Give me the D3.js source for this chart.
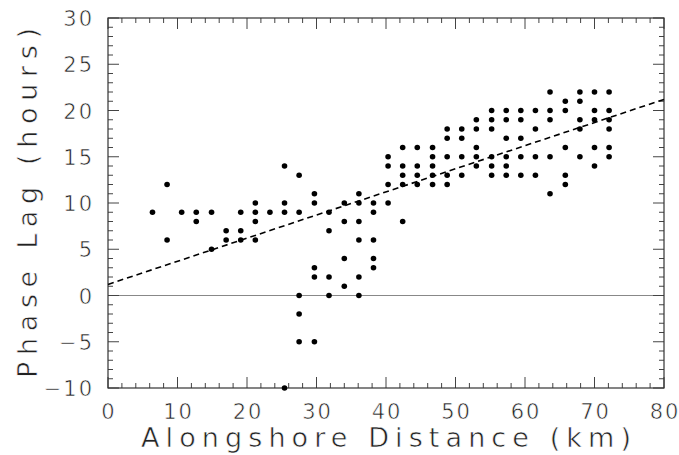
<!DOCTYPE html>
<html>
<head>
<meta charset="utf-8">
<script src="https://cdn.jsdelivr.net/npm/d3@7"></script>
<style>
  body { margin: 0; background: #fff; }
  text { font-family: "DejaVu Sans", sans-serif; fill: #222; stroke: #fff; stroke-width: 0.6px; paint-order: normal; }
</style>
</head>
<body>
<div id="chart"></div>
<script>
// alongshore distance of each station (km)
const stations = [6.4, 8.5, 10.6, 12.7, 14.9, 17.0, 19.1, 21.2, 23.3, 25.4, 27.5,
                  29.7, 31.8, 34.0, 36.1, 38.2, 40.3, 42.4, 44.5, 46.7, 48.8, 50.9,
                  53.0, 55.2, 57.3, 59.4, 61.5, 63.6, 65.8, 67.9, 70.0, 72.1];
// phase lags observed at each station (hours)
const lags = [
  [9], [12, 6], [9], [9, 8], [9, 5], [7, 6], [9, 7, 6], [10, 9, 8, 6], [9],
  [14, 10, 9, -10], [13, 9, 0, -2, -5], [11, 10, 3, 2, -5], [9, 7, 2, 0],
  [10, 8, 4, 1], [11, 10, 8, 6, 2, 0], [10, 9, 6, 4, 3], [15, 14, 12, 10],
  [16, 14, 13, 12, 8], [16, 14, 13, 12], [16, 15, 14, 13, 12], [18, 17, 15, 13, 12],
  [18, 17, 15, 13], [19, 18, 16, 15, 14], [20, 19, 18, 15, 14, 13],
  [20, 19, 17, 15, 14, 13], [20, 19, 17, 15, 13], [20, 18, 15, 13],
  [22, 20, 19, 15, 11], [21, 20, 16, 13, 12], [22, 21, 19, 18, 15],
  [22, 20, 19, 16, 14], [22, 20, 19, 18, 16, 15]
];
// fitted trend line end points
const fitX = [0, 80];
const fitY = [1.2, 21.2];

const xTicks = [0, 10, 20, 30, 40, 50, 60, 70, 80];
const yTicks = [-10, -5, 0, 5, 10, 15, 20, 25, 30];

const W = 679, H = 455;
const m = {left: 108, right: 15, top: 18, bottom: 67};

const svg = d3.select("#chart").append("svg")
    .attr("width", W).attr("height", H);

const x = d3.scaleLinear().domain([0, 80]).range([m.left, W - m.right]);
const y = d3.scaleLinear().domain([-10, 30]).range([H - m.bottom, m.top]);

const x0 = x(0), x1 = x(80), y0 = y(-10), y1 = y(30);

// zero line
svg.append("line")
    .attr("x1", x0).attr("x2", x1)
    .attr("y1", y(0)).attr("y2", y(0))
    .attr("stroke", "#888").attr("stroke-width", 1);

// ticks on all four sides, pointing inward
const tickG = svg.append("g").attr("stroke", "#444").attr("stroke-width", 1);
d3.range(0, 81, 2).forEach(v => {
    const len = v % 10 === 0 ? 11 : 5;
    tickG.append("line").attr("x1", x(v)).attr("x2", x(v)).attr("y1", y0).attr("y2", y0 - len);
    tickG.append("line").attr("x1", x(v)).attr("x2", x(v)).attr("y1", y1).attr("y2", y1 + len);
});
d3.range(-10, 31, 1).forEach(v => {
    const len = v % 5 === 0 ? 11 : 5;
    tickG.append("line").attr("x1", x0).attr("x2", x0 + len).attr("y1", y(v)).attr("y2", y(v));
    tickG.append("line").attr("x1", x1).attr("x2", x1 - len).attr("y1", y(v)).attr("y2", y(v));
});

// frame
svg.append("rect")
    .attr("x", x0).attr("y", y1)
    .attr("width", x1 - x0).attr("height", y0 - y1)
    .attr("fill", "none").attr("stroke", "#333").attr("stroke-width", 1.2);

// tick labels
svg.append("g").selectAll("text").data(xTicks).join("text")
    .attr("x", d => x(d) + 1).attr("y", y0 + 31)
    .attr("text-anchor", "middle")
    .attr("font-size", 21).attr("letter-spacing", 2)
    .text(d => d);

svg.append("g").selectAll("text").data(yTicks).join("text")
    .attr("x", x0 - 14).attr("y", d => y(d) + 8)
    .attr("text-anchor", "end")
    .attr("font-size", 21).attr("letter-spacing", 2)
    .text(d => d < 0 ? "\u2212" + Math.abs(d) : d);

// axis titles
svg.append("text")
    .attr("x", 141).attr("y", 447)
    .attr("font-size", 27)
    .attr("textLength", 490).attr("lengthAdjust", "spacing")
    .text("Alongshore Distance (km)");

svg.append("text")
    .attr("transform", "translate(37,378) rotate(-90)")
    .attr("font-size", 27)
    .attr("textLength", 350).attr("lengthAdjust", "spacing")
    .text("Phase Lag (hours)");

// trend line
svg.append("line")
    .attr("x1", x(fitX[0])).attr("y1", y(fitY[0]))
    .attr("x2", x(fitX[1])).attr("y2", y(fitY[1]))
    .attr("stroke", "#000").attr("stroke-width", 1.6)
    .attr("stroke-dasharray", "6,4");

// observations
const pts = [];
stations.forEach((s, i) => lags[i].forEach(v => pts.push({s, v})));

svg.append("g").selectAll("circle").data(pts).join("circle")
    .attr("cx", d => x(d.s)).attr("cy", d => y(d.v))
    .attr("r", 2.8).attr("fill", "#000");
</script>
</body>
</html>
